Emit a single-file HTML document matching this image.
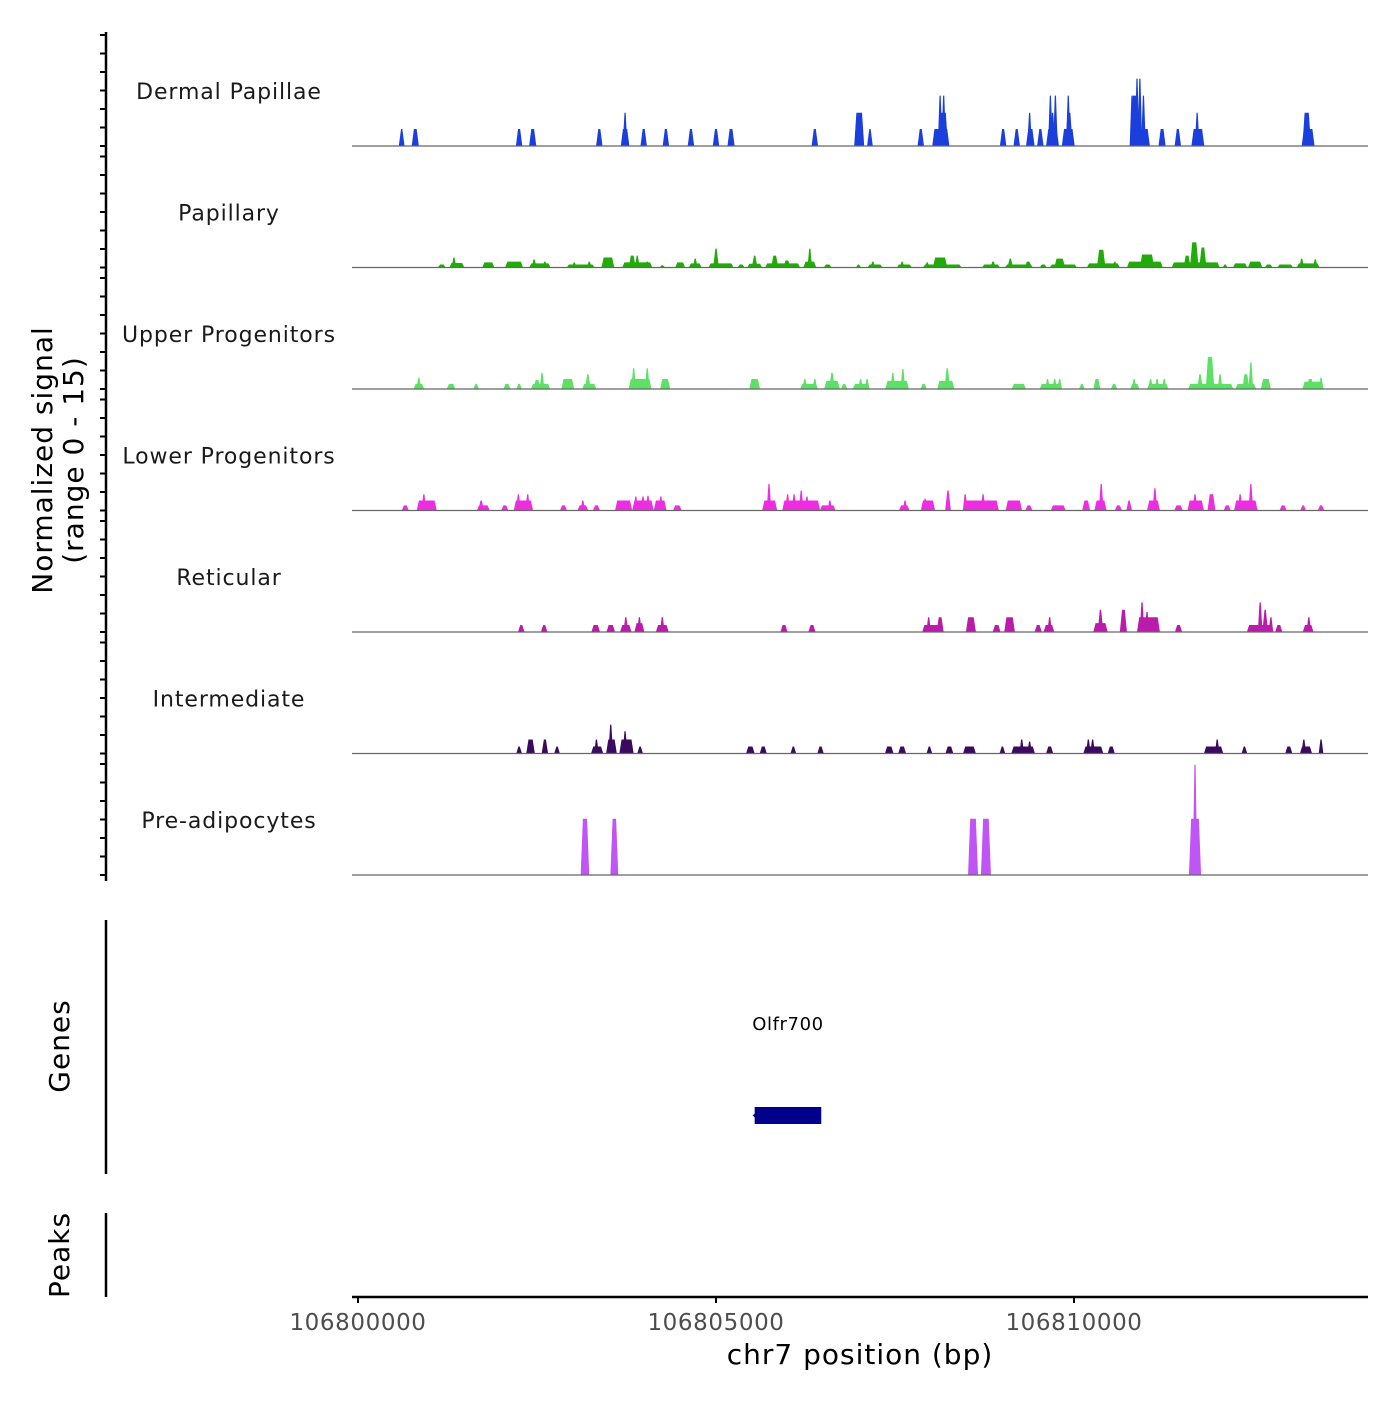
<!DOCTYPE html>
<html><head><meta charset="utf-8"><style>
body{margin:0;background:#fff;}
svg text{font-family:"DejaVu Sans","Liberation Sans",sans-serif;}
</style></head><body>
<svg id="chart" width="1400" height="1400" xmlns="http://www.w3.org/2000/svg">
<g id="tracks"></g>
<g id="axes"></g>
</svg>
<script>
// data: peaks as [center offset kb from 106800000, width kb, normalized signal]
const trackNames = ["Dermal Papillae","Papillary","Upper Progenitors","Lower Progenitors","Reticular","Intermediate","Pre-adipocytes"];
const trackColors = ["#1a3fdc","#22aa0a","#5ce065","#ec2ee0","#b91bab","#3b0a5e","#c055f5"];
const dermalPeaks = [[0.61,.08,2.3],[0.80,.10,2.3],[2.25,.09,2.3],[2.44,.10,2.3],[3.37,.09,2.3],[3.73,.12,2.3],[3.73,.04,4.5],[3.99,.09,2.3],[4.30,.09,2.3],[4.65,.09,2.3],[5.00,.09,2.3],[5.21,.10,2.3],[6.38,.09,2.3],[7.00,.14,4.5],[7.15,.08,2.3],[7.86,.09,2.3],[8.14,.24,2.3],[8.17,.14,4.5],[8.13,.03,6.8],[8.18,.03,6.8],[9.01,.09,2.3],[9.20,.09,2.3],[9.39,.12,2.3],[9.38,.03,4.5],[9.53,.09,2.3],[9.70,.18,2.3],[9.67,.04,6.8],[9.74,.04,6.8],[9.70,.08,4.5],[9.92,.18,2.3],[9.93,.10,4.5],[9.92,.03,6.8],[10.92,.28,2.3],[10.85,.12,6.8],[10.81,.04,6.8],[10.88,.03,9.1],[10.92,.03,9.1],[10.97,.04,6.8],[11.23,.10,2.3],[11.45,.09,2.3],[11.73,.18,2.3],[11.72,.03,4.5],[13.27,.18,2.3],[13.25,.12,4.5]];
const papillaryPeaks = [[1.17,.11,.4],[1.38,.21,.6],[1.34,.06,1.35],[1.82,.17,.7],[2.18,.25,.8],[2.54,.30,.55],[2.46,.05,1.1],[2.61,.05,.8],[3.11,.39,.4],[3.02,.05,.7],[3.23,.05,.8],[3.49,.18,1.35],[3.90,.42,.7],[3.83,.1,1.6],[3.90,.06,1.6],[4.04,.08,.8],[4.25,.08,.3],[4.50,.14,.7],[4.71,.18,.55],[4.71,.04,1.2],[5.07,.35,.55],[5.00,.08,2.55],[5.35,.1,.4],[5.54,.21,.5],[5.54,.08,1.6],[5.93,.49,.55],[5.82,.10,1.6],[5.99,.1,.95],[6.31,.18,.8],[6.31,.06,2.55],[6.56,.11,.4],[6.99,.07,.4],[7.22,.21,.4],[7.19,.06,.8],[7.63,.21,.4],[7.60,.06,.8],[8.16,.54,.4],[8.13,.2,1.35],[7.95,.06,.7],[8.84,.25,.4],[8.87,.08,.8],[9.23,.39,.4],[9.11,.08,1.2],[9.36,.1,.8],[9.57,.1,.4],[9.85,.38,.4],[9.80,.15,1.2],[10.41,.46,.55],[10.38,.12,2.4],[10.57,.06,.8],[10.99,.5,.8],[11.02,.2,1.75],[11.70,.67,.7],[11.68,.12,3.4],[11.80,.1,2.7],[11.58,.1,1.6],[12.11,.07,.4],[12.32,.2,.55],[12.53,.2,.8],[12.72,.11,.4],[12.95,.22,.4],[13.27,.32,.55],[13.18,.06,1.2],[13.37,.06,1.1]];
const upperPeaks = [[0.85,.15,.7],[0.85,.06,1.5],[1.30,.12,.7],[1.65,.08,.7],[2.08,.1,.7],[2.25,.08,.7],[2.55,.27,.7],[2.57,.06,2.2],[2.50,.1,1.2],[2.93,.18,1.35],[3.23,.2,.7],[3.21,.08,2.0],[3.94,.32,1.35],[3.85,.06,2.8],[4.04,.06,2.8],[4.29,.14,1.35],[5.54,.15,1.35],[6.30,.25,.7],[6.24,.05,1.35],[6.38,.06,1.35],[6.62,.22,1.1],[6.62,.08,2.2],[6.79,.09,.7],[7.03,.24,.7],[7.02,.04,1.35],[7.11,.04,1.35],[7.53,.33,1.1],[7.47,.06,2.2],[7.61,.06,2.7],[7.90,.09,.7],[8.21,.24,1.1],[8.23,.08,2.8],[9.23,.2,.7],[9.67,.3,.7],[9.63,.04,1.35],[9.73,.04,1.35],[9.80,.04,1.35],[10.11,.08,.7],[10.32,.1,1.35],[10.56,.09,.7],[10.85,.13,.7],[10.84,.05,1.35],[11.17,.3,.7],[11.07,.04,1.35],[11.16,.04,1.35],[11.26,.04,1.35],[11.91,.63,.7],[11.90,.12,4.3],[11.76,.08,2.0],[12.04,.06,2.0],[12.40,.29,.7],[12.47,.06,3.6],[12.40,.1,2.0],[12.68,.14,1.35],[13.34,.3,1.0],[13.30,.1,1.35],[13.45,.04,1.5]];
const lowerPeaks = [[0.66,.1,.7],[0.96,.28,1.35],[0.92,.06,2.2],[1.75,.18,.7],[1.72,.08,1.35],[2.05,.1,.7],[2.31,.27,1.35],[2.24,.06,2.2],[2.37,.06,2.2],[2.87,.1,.7],[3.14,.15,.7],[3.14,.06,1.35],[3.33,.1,.7],[3.71,.24,1.35],[3.98,.30,1.35],[3.88,.04,1.9],[3.98,.04,1.9],[4.05,.04,2.0],[4.22,.18,1.35],[4.23,.04,1.9],[4.46,.12,.7],[5.75,.21,1.35],[5.74,.06,3.6],[6.19,.53,1.35],[6.00,.05,2.2],[6.09,.05,2.2],[6.19,.05,2.7],[6.27,.05,1.9],[6.56,.22,.7],[6.59,.05,1.35],[7.63,.15,.7],[7.64,.05,1.35],[7.96,.2,1.35],[7.92,.04,1.6],[8.24,.08,2.7],[8.70,.5,1.35],[8.48,.05,2.2],[8.73,.05,2.2],[9.16,.23,1.35],[9.37,.1,.7],[9.78,.21,.7],[10.17,.11,1.35],[10.37,.17,1.35],[10.38,.05,3.6],[10.62,.1,.7],[10.77,.08,1.35],[11.11,.18,1.35],[11.13,.05,3.0],[11.46,.12,.7],[11.70,.23,1.35],[11.69,.06,2.2],[11.92,.11,2.2],[12.14,.1,.7],[12.40,.33,1.35],[12.32,.06,2.2],[12.47,.06,3.6],[12.92,.1,.7],[13.20,.08,.7],[13.45,.09,.7]];
const reticularPeaks = [[2.28,.09,.95],[2.60,.09,.95],[3.32,.12,.95],[3.53,.12,.95],[3.74,.16,.95],[3.74,.04,2.0],[3.93,.14,1.2],[3.93,.06,2.0],[4.25,.18,.95],[4.25,.04,2.0],[5.95,.1,.95],[6.34,.1,.95],[8.03,.3,.95],[7.97,.04,2.0],[8.13,.1,2.0],[8.56,.14,2.0],[8.92,.11,.95],[9.10,.15,2.0],[9.50,.1,.95],[9.65,.15,.95],[9.66,.04,2.0],[10.37,.2,1.2],[10.37,.08,3.0],[10.69,.1,3.0],[11.04,.32,2.0],[10.95,.05,4.0],[11.02,.06,2.7],[11.46,.1,.95],[12.60,.37,.95],[12.60,.05,4.0],[12.67,.08,3.0],[12.75,.05,2.0],[12.86,.1,.95],[13.27,.15,.95],[13.28,.04,2.0]];
const intermediatePeaks = [[2.25,.08,.95],[2.41,.12,1.9],[2.61,.09,1.9],[2.78,.08,.95],[3.34,.17,.95],[3.33,.05,1.9],[3.54,.15,1.9],[3.53,.04,3.9],[3.75,.2,1.9],[3.73,.05,3.0],[3.94,.08,.95],[5.48,.12,.95],[5.66,.1,.95],[6.08,.08,.95],[6.46,.09,.95],[7.42,.12,.95],[7.60,.11,.95],[7.98,.08,.95],[8.26,.11,.95],[8.54,.18,.95],[9.00,.08,.95],[9.29,.33,.95],[9.27,.06,1.9],[9.38,.04,1.6],[9.66,.1,.95],[10.27,.28,.95],[10.20,.04,1.9],[10.26,.04,1.9],[10.52,.1,.95],[11.95,.27,.95],[12.00,.05,1.9],[12.38,.08,.95],[13.00,.1,.95],[13.24,.17,.95],[13.21,.04,1.9],[13.45,.04,1.9]];
const preadipocytePeaks = [[3.17,.12,7.6],[3.58,.11,7.6],[8.59,.14,7.6],[8.77,.14,7.6],[11.69,.17,7.6],[11.69,.06,14.9]];
const allPeaks = [dermalPeaks,papillaryPeaks,upperPeaks,lowerPeaks,reticularPeaks,intermediatePeaks,preadipocytePeaks];
const xTicks = [106800000,106805000,106810000];
const xTickLabels = ["106800000","106805000","106810000"];
const yTickValues = [0,2.5,5,7.5,10,12.5,15];
const geneName = "Olfr700";
const geneStart = 106805540, geneEnd = 106806470;

const NS="http://www.w3.org/2000/svg";
const origin = 106800000;
const pxPerBp = 358/5000;
function xScale(bp){return 358 + (bp-origin)*pxPerBp;}
function xKb(kb){return xScale(origin + kb*1000);}
const trackTop0 = 35, trackStep = 121.5, trackH = 111;
function baseY(i){return trackTop0 + trackH + i*trackStep;}
function yScale(i,v){return baseY(i) - v/15*trackH;}
function mk(tag,attrs,parent){const e=document.createElementNS(NS,tag);for(const k in attrs)e.setAttribute(k,attrs[k]);parent.appendChild(e);return e;}
const tg=document.getElementById('tracks'), ag=document.getElementById('axes');

allPeaks.forEach((peaks,i)=>{
  const g=mk('g',{},tg);
  
  
  const lab=mk('text',{x:229,y:baseY(i)-47,'font-size':22,'text-anchor':'middle',fill:'#1a1a1a','letter-spacing':'0.9'},g);
  lab.textContent=trackNames[i];
  
  
  peaks.forEach(p=>{
    const w=Math.max(p[1],0.065);
    const x0=xKb(p[0]-w/2), x1=xKb(p[0]+w/2), y0=baseY(i), y1=yScale(i,p[2]);
    const s=Math.min(2.2,(x1-x0)/2-0.6);
    const poly=mk('polygon',{points:`${x0},${y0} ${x0+s},${y1} ${x1-s},${y1} ${x1},${y0}`,fill:trackColors[i]},g);
    
    
  });
  const bl=mk('line',{x1:352,x2:1368,y1:baseY(i),y2:baseY(i),stroke:'#666','stroke-width':1.2},g);
  
  
  yTickValues.forEach(v=>{
    const t=mk('line',{x1:100,x2:106,y1:yScale(i,v),y2:yScale(i,v),stroke:'#000','stroke-width':2},ag);
    
    
  });
});
const yl=mk('line',{x1:106,x2:106,y1:32,y2:881,stroke:'#000','stroke-width':2.5},ag);


const yt=mk('text',{transform:'translate(52,460) rotate(-90)','font-size':28,'text-anchor':'middle',fill:'#000','letter-spacing':'1'},ag);


const t1=mk('tspan',{x:0,dy:0},yt); t1.textContent='Normalized signal';
const t2=mk('tspan',{x:0,dy:31},yt); t2.textContent='(range 0 - 15)';

// genes panel
const gl=mk('line',{x1:106,x2:106,y1:920,y2:1174,stroke:'#000','stroke-width':2.5},ag);


const gt=mk('text',{transform:'translate(69,1046) rotate(-90)','font-size':28,'text-anchor':'middle',fill:'#000','letter-spacing':'1'},ag);
gt.textContent='Genes';


const gx0=xScale(geneStart), gx1=xScale(geneEnd);
const gr=mk('rect',{x:gx0,y:1107,width:gx1-gx0,height:17,fill:'#00008b'},ag);


const ga=mk('polygon',{points:`${gx0-2},1115.5 ${gx0+3},1111 ${gx0+3},1120`,fill:'#00008b'},ag);


const gn=mk('text',{x:(gx0+gx1)/2,y:1030,'font-size':18,'text-anchor':'middle',fill:'#000','letter-spacing':'0.6'},ag);
gn.textContent=geneName;



// peaks panel
const pl=mk('line',{x1:106,x2:106,y1:1213,y2:1297,stroke:'#000','stroke-width':2.5},ag);


const pt=mk('text',{transform:'translate(69,1255) rotate(-90)','font-size':28,'text-anchor':'middle',fill:'#000','letter-spacing':'1'},ag);
pt.textContent='Peaks';



// x axis
const xl=mk('line',{x1:352,x2:1368,y1:1297,y2:1297,stroke:'#000','stroke-width':2.5},ag);


xTicks.forEach((b,k)=>{
  const t=mk('line',{x1:xScale(b),x2:xScale(b),y1:1297,y2:1303,stroke:'#000','stroke-width':2},ag);
  
  
  const l=mk('text',{x:xScale(b),y:1330,'font-size':23,'text-anchor':'middle',fill:'#4d4d4d','letter-spacing':'0.6'},ag);
  l.textContent=xTickLabels[k];
  
  
});
const xt=mk('text',{x:860,y:1364,'font-size':28,'text-anchor':'middle',fill:'#000','letter-spacing':'1'},ag);
xt.textContent='chr7 position (bp)';


</script>
</body></html>
